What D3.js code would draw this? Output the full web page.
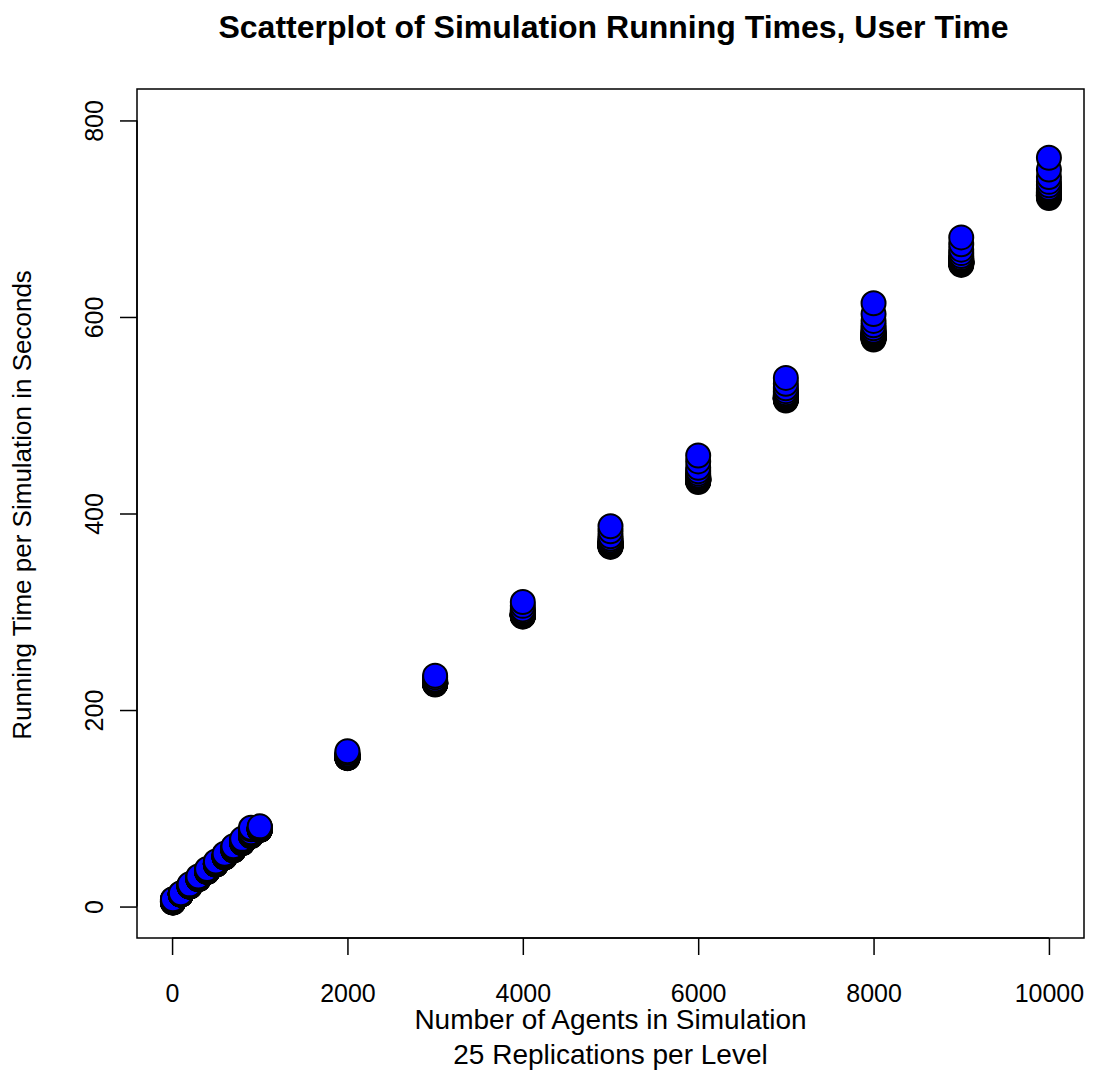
<!DOCTYPE html>
<html>
<head>
<meta charset="utf-8">
<script src="https://cdn.jsdelivr.net/npm/d3@7"></script>
<style>
  body { margin: 0; background: #fff; }
  svg { display: block; font-family: "Liberation Sans", Arial, Helvetica, sans-serif; }
</style>
</head>
<body>
<svg id="chart" width="1097" height="1074"></svg>
<script>
// agent levels, 25 replications each (user time, seconds)
let levels = [10, 100, 200, 300, 400, 500, 600, 700, 800, 900, 1000,
              2000, 3000, 4000, 5000, 6000, 7000, 8000, 9000, 10000];

let t10 = [4.0,4.2,4.3,4.5,4.4,4.7,4.6,4.8,5.0,4.9,5.1,5.3,5.2,5.5,5.4,5.7,5.6,5.9,6.0,6.2,6.4,6.6,6.9,7.1,7.4];
let t100 = [12.1,12.4,12.3,12.6,12.2,12.8,12.5,12.3,12.4,12.7,12.2,12.5,12.6,12.3,12.9,12.4,12.5,12.2,12.6,12.3,12.7,12.4,13.1,12.5,13.6];
let t200 = [20.3,20.6,20.4,20.9,20.5,20.7,21.0,20.4,20.6,20.8,20.5,21.2,20.6,20.7,20.4,20.9,20.6,21.1,20.5,20.8,20.7,21.4,20.6,22.0,22.6];
let t300 = [27.8,28.1,28.0,28.4,28.2,28.6,28.1,28.3,28.9,28.2,28.5,28.0,28.7,28.3,28.4,29.1,28.2,28.6,28.3,28.8,28.5,29.4,28.4,30.0,30.6];
let t400 = [35.2,35.6,35.4,35.9,35.5,36.1,35.7,35.4,36.3,35.6,35.8,36.0,35.5,36.4,35.7,35.9,36.2,35.6,36.6,35.8,36.0,37.0,35.9,37.6,38.2];
let t500 = [42.6,43.0,42.8,43.3,42.9,43.6,43.1,42.8,43.8,43.0,43.4,43.2,42.9,44.0,43.1,43.5,43.3,43.0,44.3,43.2,43.6,44.8,43.4,45.3,45.9];
let t600 = [49.8,50.3,50.0,50.6,50.2,51.0,50.4,50.1,51.3,50.3,50.8,50.5,50.2,51.6,50.4,50.9,50.6,50.3,52.0,50.5,51.1,52.6,50.7,53.1,53.8];
let t700 = [57.1,57.6,57.3,58.0,57.5,58.4,57.7,57.4,58.8,57.6,58.2,57.9,57.5,59.1,57.8,58.3,58.0,57.6,59.5,57.9,58.6,60.1,58.1,60.7,61.3];
let t800 = [64.3,64.9,64.6,65.3,64.8,65.8,65.0,64.7,66.2,64.9,65.5,65.2,64.8,66.6,65.1,65.7,65.3,64.9,67.0,65.2,66.0,67.6,65.4,68.2,68.9];
let t900 = [71.6,72.2,71.9,72.7,72.1,73.2,72.4,72.0,73.7,72.2,72.9,72.6,72.1,74.2,72.4,73.1,72.7,72.2,74.8,72.5,73.5,75.6,72.8,78.6,80.2];
let t1000 = [77.9,78.3,78.1,78.6,78.2,78.9,78.4,78.1,79.2,78.3,78.7,78.5,78.2,79.5,78.4,78.8,78.6,78.3,79.9,78.5,79.0,80.3,78.7,81.0,81.6];
let t2000 = [151.0,151.6,151.3,152.1,151.5,152.6,151.8,151.4,153.0,151.7,152.3,152.0,151.5,153.5,151.9,152.5,152.1,151.6,154.1,152.0,152.8,154.8,152.2,156.4,158.0];
let t3000 = [226.0,226.8,226.4,227.3,226.7,228.0,227.0,226.5,228.6,226.9,227.7,227.3,226.6,229.2,227.1,227.9,227.4,226.8,230.0,227.2,228.3,231.0,227.5,233.2,235.0];
let t4000 = [295.0,296.1,295.6,297.0,296.0,297.9,296.4,295.8,298.7,296.2,297.3,296.8,295.9,299.6,296.5,297.6,297.0,296.1,300.8,296.7,298.2,302.4,297.1,306.0,310.0];
let t5000 = [366.0,367.5,366.8,368.6,367.3,370.0,367.8,367.0,371.2,367.6,369.1,368.4,367.1,372.6,368.0,369.6,368.7,367.4,374.3,368.2,370.4,376.8,368.9,382.0,387.0];
let t6000 = [432.0,433.9,433.0,435.4,433.6,437.0,434.2,433.2,438.7,434.0,435.9,435.0,433.4,440.6,434.4,436.4,435.2,433.7,443.0,434.7,437.5,446.5,435.6,453.0,459.0];
let t7000 = [515.0,516.7,516.0,518.0,516.5,519.5,517.0,516.2,520.8,516.8,518.5,517.6,516.3,522.4,517.2,519.0,517.9,516.6,524.5,517.4,520.0,527.5,518.2,532.0,538.0];
let t8000 = [577.0,579.5,578.4,581.5,579.0,584.0,580.0,578.6,586.0,579.7,582.4,581.0,578.8,588.5,580.3,583.0,581.6,579.2,591.5,580.7,585.0,596.0,582.0,603.0,614.0];
let t9000 = [653.0,655.0,654.2,656.6,654.7,658.2,655.4,654.4,660.0,655.1,657.2,656.1,654.5,662.0,655.7,657.8,656.4,654.9,665.0,656.0,659.0,668.5,656.9,674.0,681.0];
let t10000 = [721.0,723.8,722.6,726.0,723.3,728.8,724.4,722.9,731.2,724.0,727.0,725.5,723.0,734.0,724.8,727.8,726.2,723.5,737.5,725.2,730.0,742.5,726.6,750.0,762.0];

let times = [t10, t100, t200, t300, t400, t500, t600, t700, t800, t900, t1000,
             t2000, t3000, t4000, t5000, t6000, t7000, t8000, t9000, t10000];

let xTicks = [0, 2000, 4000, 6000, 8000, 10000];
let yTicks = [0, 200, 400, 600, 800];

let titleText = "Scatterplot of Simulation Running Times, User Time";
let xLabel = "Number of Agents in Simulation";
let xSub = "25 Replications per Level";
let yLabel = "Running Time per Simulation in Seconds";

// flatten into points, lower values drawn first so the top one sits on top
let points = [];
levels.forEach(function(n, i) {
    d3.sort(times[i]).forEach(function(v) {
        points.push({ agents: n, secs: v });
    });
});

let svg = d3.select("#chart");
let box = { left: 137, right: 1084, top: 89, bottom: 938 };

let x = d3.scaleLinear().domain([-400, 10400]).range([box.left, box.right]);
let y = d3.scaleLinear().domain([-32, 832]).range([box.bottom, box.top]);

// points
svg.append("g")
    .selectAll("circle")
    .data(points)
    .enter()
    .append("circle")
    .attr("cx", function(d) { return x(d.agents); })
    .attr("cy", function(d) { return y(d.secs); })
    .attr("r", 12)
    .attr("fill", "#0000ff")
    .attr("stroke", "#000")
    .attr("stroke-width", 2);

// box
svg.append("rect")
    .attr("x", box.left)
    .attr("y", box.top)
    .attr("width", box.right - box.left)
    .attr("height", box.bottom - box.top)
    .attr("fill", "none")
    .attr("stroke", "#000")
    .attr("stroke-width", 1.5);

// axes
let xAxis = svg.append("g")
    .attr("transform", "translate(0," + box.bottom + ")")
    .call(d3.axisBottom(x).tickValues(xTicks).tickSize(17).tickPadding(29).tickFormat(d3.format("d")));

let yAxis = svg.append("g")
    .attr("transform", "translate(" + box.left + ",0)")
    .call(d3.axisLeft(y).tickValues(yTicks).tickSize(17).tickFormat(d3.format("d")));

xAxis.select(".domain")
    .attr("d", "M" + x(0) + ",0H" + x(10000));
yAxis.select(".domain")
    .attr("d", "M0," + y(0) + "V" + y(800));

svg.selectAll(".domain, .tick line")
    .attr("stroke", "#000")
    .attr("stroke-width", 1.5);

xAxis.selectAll(".tick text")
    .attr("font-size", 25)
    .attr("font-family", "Liberation Sans, Arial, sans-serif")
    .attr("fill", "#000")
    .attr("dy", "0.71em");

yAxis.selectAll(".tick text")
    .attr("font-size", 25)
    .attr("font-family", "Liberation Sans, Arial, sans-serif")
    .attr("fill", "#000")
    .attr("text-anchor", "middle")
    .attr("dy", null)
    .attr("x", null)
    .attr("transform", function(d) { return "translate(-34,0) rotate(-90)"; });

// titles
let midX = (box.left + box.right) / 2;

svg.append("text")
    .attr("x", midX + 3)
    .attr("y", 38)
    .attr("text-anchor", "middle")
    .attr("font-size", 32)
    .attr("font-weight", "bold")
    .text(titleText);

svg.append("text")
    .attr("x", midX)
    .attr("y", 1029)
    .attr("text-anchor", "middle")
    .attr("font-size", 28)
    .text(xLabel);

svg.append("text")
    .attr("x", midX)
    .attr("y", 1064)
    .attr("text-anchor", "middle")
    .attr("font-size", 28)
    .text(xSub);

svg.append("text")
    .attr("transform", "translate(31,505) rotate(-90)")
    .attr("text-anchor", "middle")
    .attr("font-size", 26)
    .text(yLabel);
</script>
</body>
</html>
